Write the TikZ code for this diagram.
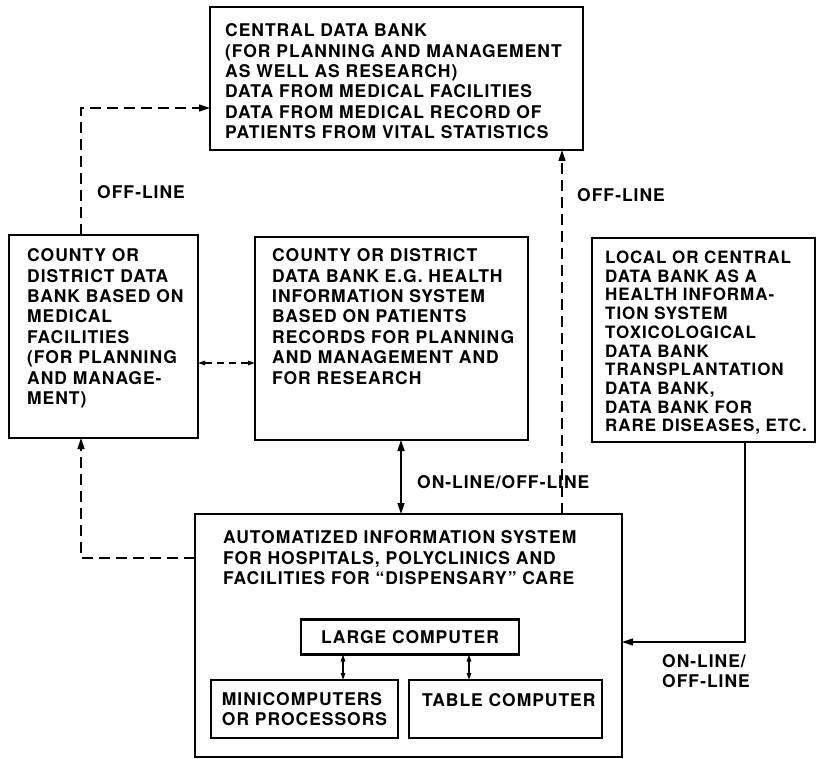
\documentclass[tikz,border=0pt]{standalone}
\usepackage{fontspec}
\setmainfont{TeX Gyre Heros}[LetterSpace=5.5]
\usetikzlibrary{arrows.meta}

\begin{document}
\begin{tikzpicture}[x=1pt,y=-1pt,
  font=\bfseries\fontsize{17.5}{20.4}\selectfont,
  bank/.style={draw,line width=2.8pt,anchor=north west,outer sep=0pt},
  comp/.style={draw,line width=2.6pt,outer sep=0pt,align=left},
  txt/.style={anchor=north west,inner sep=0pt,align=left},
  tag/.style={anchor=west,inner sep=0pt,align=left},
  link/.style={line width=1.4pt},
  offline/.style={link,dash pattern=on 11pt off 6pt},
  tip/.style={-{Triangle[length=11pt,width=7pt]}},
  bothtips/.style={{Triangle[length=11pt,width=7pt]}-{Triangle[length=11pt,width=7pt]}},
  smalltips/.style={{Triangle[length=7pt,width=4.5pt]}-{Triangle[length=7pt,width=4.5pt]}}]

  \useasboundingbox (0,0) rectangle (816,759);

  %central data bank
  \node[bank,minimum width=373pt,minimum height=143pt] (central) at (210,7) {};
  \node[txt] (centraltxt) at ([shift={(15pt,-16.6pt)}]central.north west)
    {CENTRAL DATA BANK\\(FOR PLANNING AND MANAGEMENT\\AS WELL AS RESEARCH)\\DATA FROM MEDICAL FACILITIES\\DATA FROM MEDICAL RECORD OF\\PATIENTS FROM VITAL STATISTICS};

  %county data bank
  \node[bank,minimum width=189pt,minimum height=203pt] (county) at (9,235) {};
  \node[txt] (countytxt) at ([shift={(18pt,-13.6pt)}]county.north west)
    {COUNTY OR\\DISTRICT DATA\\BANK BASED ON\\MEDICAL\\FACILITIES\\(FOR PLANNING\\AND MANAGE-\\MENT)};

  %district data bank
  \node[bank,minimum width=273pt,minimum height=203pt] (district) at (255,237) {};
  \node[txt] (districttxt) at ([shift={(17pt,-11.6pt)}]district.north west)
    {COUNTY OR DISTRICT\\DATA BANK E.G. HEALTH\\INFORMATION SYSTEM\\BASED ON PATIENTS\\RECORDS FOR PLANNING\\AND MANAGEMENT AND\\FOR RESEARCH};

  %local or central data bank
  \node[bank,minimum width=223pt,minimum height=204pt] (special) at (592,238) {};
  \node[txt,font=\bfseries\fontsize{17}{18.7}\selectfont] (specialtxt) at ([shift={(13pt,-12.8pt)}]special.north west)
    {LOCAL OR CENTRAL\\DATA BANK AS A\\HEALTH INFORMA-\\TION SYSTEM\\TOXICOLOGICAL\\DATA BANK\\TRANSPLANTATION\\DATA BANK,\\DATA BANK FOR\\RARE DISEASES, ETC.};

  %automatized information system
  \node[bank,minimum width=427pt,minimum height=243pt] (ais) at (195,514) {};
  \node[txt] (aistxt) at ([shift={(28pt,-16.6pt)}]ais.north west)
    {AUTOMATIZED INFORMATION SYSTEM\\FOR HOSPITALS, POLYCLINICS AND\\FACILITIES FOR “DISPENSARY” CARE};

  %computers
  \node[comp,minimum width=218pt,minimum height=35pt] (large) at (410,637) {LARGE COMPUTER};
  \node[comp,minimum width=187pt,minimum height=58pt] (mini) at (304.5,709) {MINICOMPUTERS\\OR PROCESSORS};
  \node[comp,minimum width=193pt,minimum height=58pt,anchor=north west] (tablepc) at (409,680) {};
  \node[txt] (tabletxt) at ([shift={(13pt,-13.6pt)}]tablepc.north west) {TABLE COMPUTER};

  %connectors
  \draw[offline,tip] ([xshift=-22.5pt]county.north) |- ([yshift=42pt]central.south west);
  \draw[link,dash pattern=on 7pt off 5pt,smalltips] ([yshift=-26.5pt]county.east) -- ([yshift=-26.5pt]county.east -| district.west);
  \draw[offline,tip] ([yshift=77.5pt]ais.west) -| ([xshift=-22.5pt]county.south);
  \draw[link,bothtips] ([xshift=9.5pt]district.south) -- ([xshift=9.5pt]district.south |- ais.north);
  \draw[offline,tip] ([xshift=153.5pt]ais.north) -- ([xshift=153.5pt]ais.north |- central.south);
  \draw[link,tip] ([xshift=41.5pt]special.south) |- ([yshift=-6.5pt]ais.east);
  \draw[link,smalltips] ([xshift=38.5pt]mini.north) -- ([xshift=38.5pt]mini.north |- large.south);
  \draw[link,smalltips] ([xshift=-36.5pt]tablepc.north) -- ([xshift=-36.5pt]tablepc.north |- large.south);

  %labels
  \node[tag] (offleft) at (97,192) {OFF-LINE};
  \node[tag] (offright) at (577,195) {OFF-LINE};
  \node[tag] (onoffmid) at (417,482) {ON-LINE/OFF-LINE};
  \node[tag] (onoffright) at (662,671) {ON-LINE/\\OFF-LINE};
\end{tikzpicture}
\end{document}
